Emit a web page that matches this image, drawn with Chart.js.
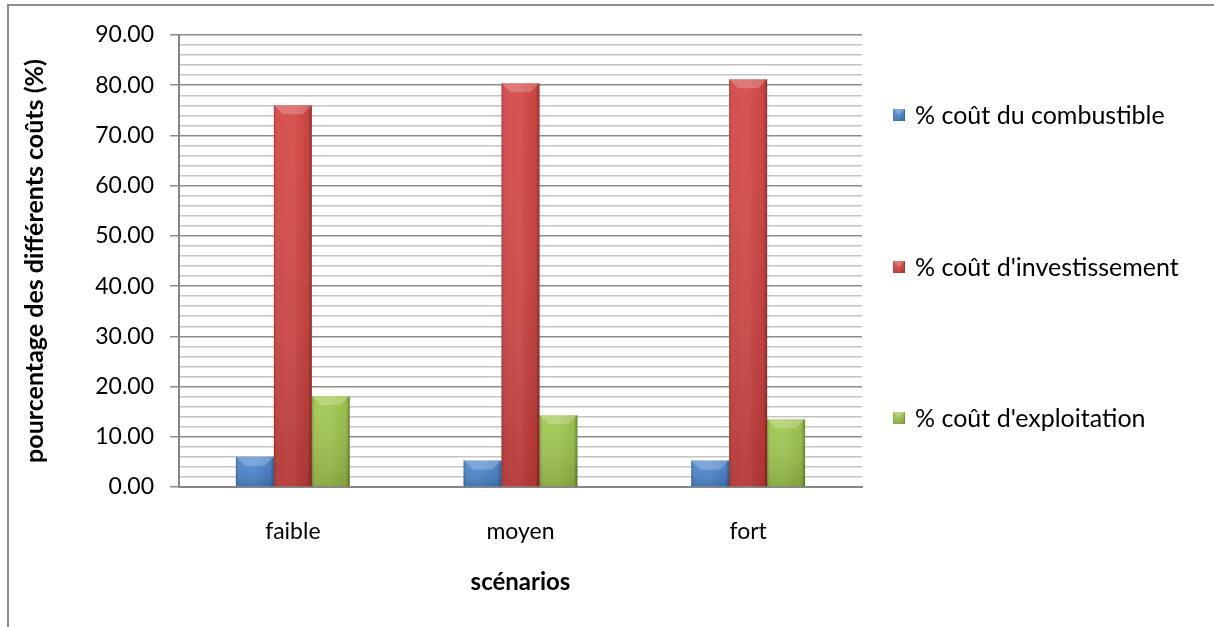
<!DOCTYPE html>
<html>
<head>
<meta charset="utf-8">
<script src="https://cdn.jsdelivr.net/npm/chart.js@4/dist/chart.umd.min.js"></script>
<style>
html, body { margin: 0; padding: 0; background: #fff; }
#wrap { width: 1214px; height: 627px; }
</style>
</head>
<body>
<div id="wrap"><canvas id="costChart"></canvas></div>
<script>
// data
const scenarios = ["faible", "moyen", "fort"];
const seriesNames = ["% coût du combustible", "% coût d'investissement", "% coût d'exploitation"];
const coutCombustible = [6.0, 5.3, 5.3];
const coutInvestissement = [76.0, 80.4, 81.2];
const coutExploitation = [18.1, 14.3, 13.5];
const yMax = 90, yMajorStep = 10, yMinorStep = 2;

const barColors = ["#4682cc", "#d13f3c", "#9cc447"];
const FONT = "Lato, 'Open Sans', sans-serif";
Chart.defaults.font.family = FONT;
Chart.defaults.color = "#000";

// white page + outer frame of the chart object
const framePlugin = {
  id: "frame",
  beforeDraw(chart) {
    const ctx = chart.ctx;
    ctx.save();
    ctx.fillStyle = "#fff";
    ctx.fillRect(0, 0, chart.width, chart.height);
    ctx.strokeStyle = "#8c8c8c";
    ctx.lineWidth = 2;
    ctx.beginPath();
    ctx.moveTo(8, chart.height);
    ctx.lineTo(8, 5);
    ctx.lineTo(chart.width, 5);
    ctx.stroke();
    ctx.restore();
  }
};

// office-like bevel on top of each bar
function bevelRect(ctx, l, t, r, b) {
  const g = ctx.createLinearGradient(l, 0, r, 0);
  g.addColorStop(0, "rgba(0,0,0,0.22)");
  g.addColorStop(0.1, "rgba(255,255,255,0.06)");
  g.addColorStop(0.5, "rgba(255,255,255,0.08)");
  g.addColorStop(0.9, "rgba(0,0,0,0.04)");
  g.addColorStop(1, "rgba(0,0,0,0.35)");
  ctx.fillStyle = g;
  ctx.fillRect(l, t, r - l, b - t);
  const v = ctx.createLinearGradient(0, t, 0, b);
  v.addColorStop(0, "rgba(255,255,255,0.04)");
  v.addColorStop(1, "rgba(0,0,0,0.14)");
  ctx.fillStyle = v;
  ctx.fillRect(l, t, r - l, b - t);
  const h = Math.min(9, (b - t) / 2, (r - l) / 2);
  ctx.fillStyle = "rgba(255,255,255,0.22)";
  ctx.beginPath();
  ctx.moveTo(l, t);
  ctx.lineTo(r, t);
  ctx.lineTo(r - h, t + h);
  ctx.lineTo(l + h, t + h);
  ctx.closePath();
  ctx.fill();
}

const bevelPlugin = {
  id: "bevel",
  afterDatasetsDraw(chart) {
    const ctx = chart.ctx;
    ctx.save();
    chart.data.datasets.forEach((ds, i) => {
      chart.getDatasetMeta(i).data.forEach(bar => {
        bevelRect(ctx, bar.x - bar.width / 2, bar.y, bar.x + bar.width / 2, bar.base);
      });
    });
    ctx.restore();
  }
};

// legend on the right, spread like the original
const legendPlugin = {
  id: "sideLegend",
  afterDraw(chart) {
    const ctx = chart.ctx;
    const ys = [115, 267, 418];
    ctx.save();
    ctx.font = "25px " + FONT;
    ctx.textBaseline = "middle";
    chart.data.datasets.forEach((ds, i) => {
      const y = ys[i];
      ctx.fillStyle = ds.backgroundColor;
      ctx.fillRect(893, y - 6, 12, 12);
      bevelRect(ctx, 893, y - 6, 905, y + 6);
      ctx.fillStyle = "#000";
      ctx.fillText(ds.label, 915, y + 1);
    });
    ctx.restore();
  }
};

new Chart(document.getElementById("costChart"), {
  type: "bar",
  data: {
    labels: scenarios,
    datasets: [
      { label: seriesNames[0], data: coutCombustible, backgroundColor: barColors[0] },
      { label: seriesNames[1], data: coutInvestissement, backgroundColor: barColors[1] },
      { label: seriesNames[2], data: coutExploitation, backgroundColor: barColors[2] }
    ]
  },
  options: {
    responsive: true,
    maintainAspectRatio: false,
    animation: false,
    layout: { padding: { left: 16, right: 352, top: 35, bottom: 0 } },
    datasets: { bar: { categoryPercentage: 0.5, barPercentage: 1.0, borderWidth: 0 } },
    plugins: {
      legend: { display: false },
      tooltip: { enabled: false }
    },
    scales: {
      x: {
        grid: { display: false },
        border: { color: "#868686", width: 2 },
        ticks: { font: { size: 23 }, padding: 23 },
        title: { display: true, text: "scénarios", font: { size: 24, weight: "bold" }, padding: { bottom: 30 } },
        afterFit(s) { s.height = 140; }
      },
      y: {
        min: 0,
        max: yMax,
        border: { color: "#868686", width: 2 },
        grid: {
          color: c => (c.tick && c.tick.value % yMajorStep === 0) ? "#8c8c8c" : "#c4c4c4",
          tickColor: c => (c.tick && c.tick.value % yMajorStep === 0) ? "#8c8c8c" : "rgba(0,0,0,0)",
          lineWidth: 1.5,
          tickLength: 9
        },
        ticks: {
          stepSize: yMinorStep,
          autoSkip: false,
          font: { size: 23 },
          padding: 16,
          callback: v => (v % yMajorStep === 0) ? v.toFixed(2) : ""
        },
        title: { display: true, text: "pourcentage des différents coûts (%)", font: { size: 25, weight: "bold" }, padding: { top: 4 } },
        afterFit(s) { s.width = 163; }
      }
    }
  },
  plugins: [framePlugin, bevelPlugin, legendPlugin]
});
</script>
</body>
</html>
